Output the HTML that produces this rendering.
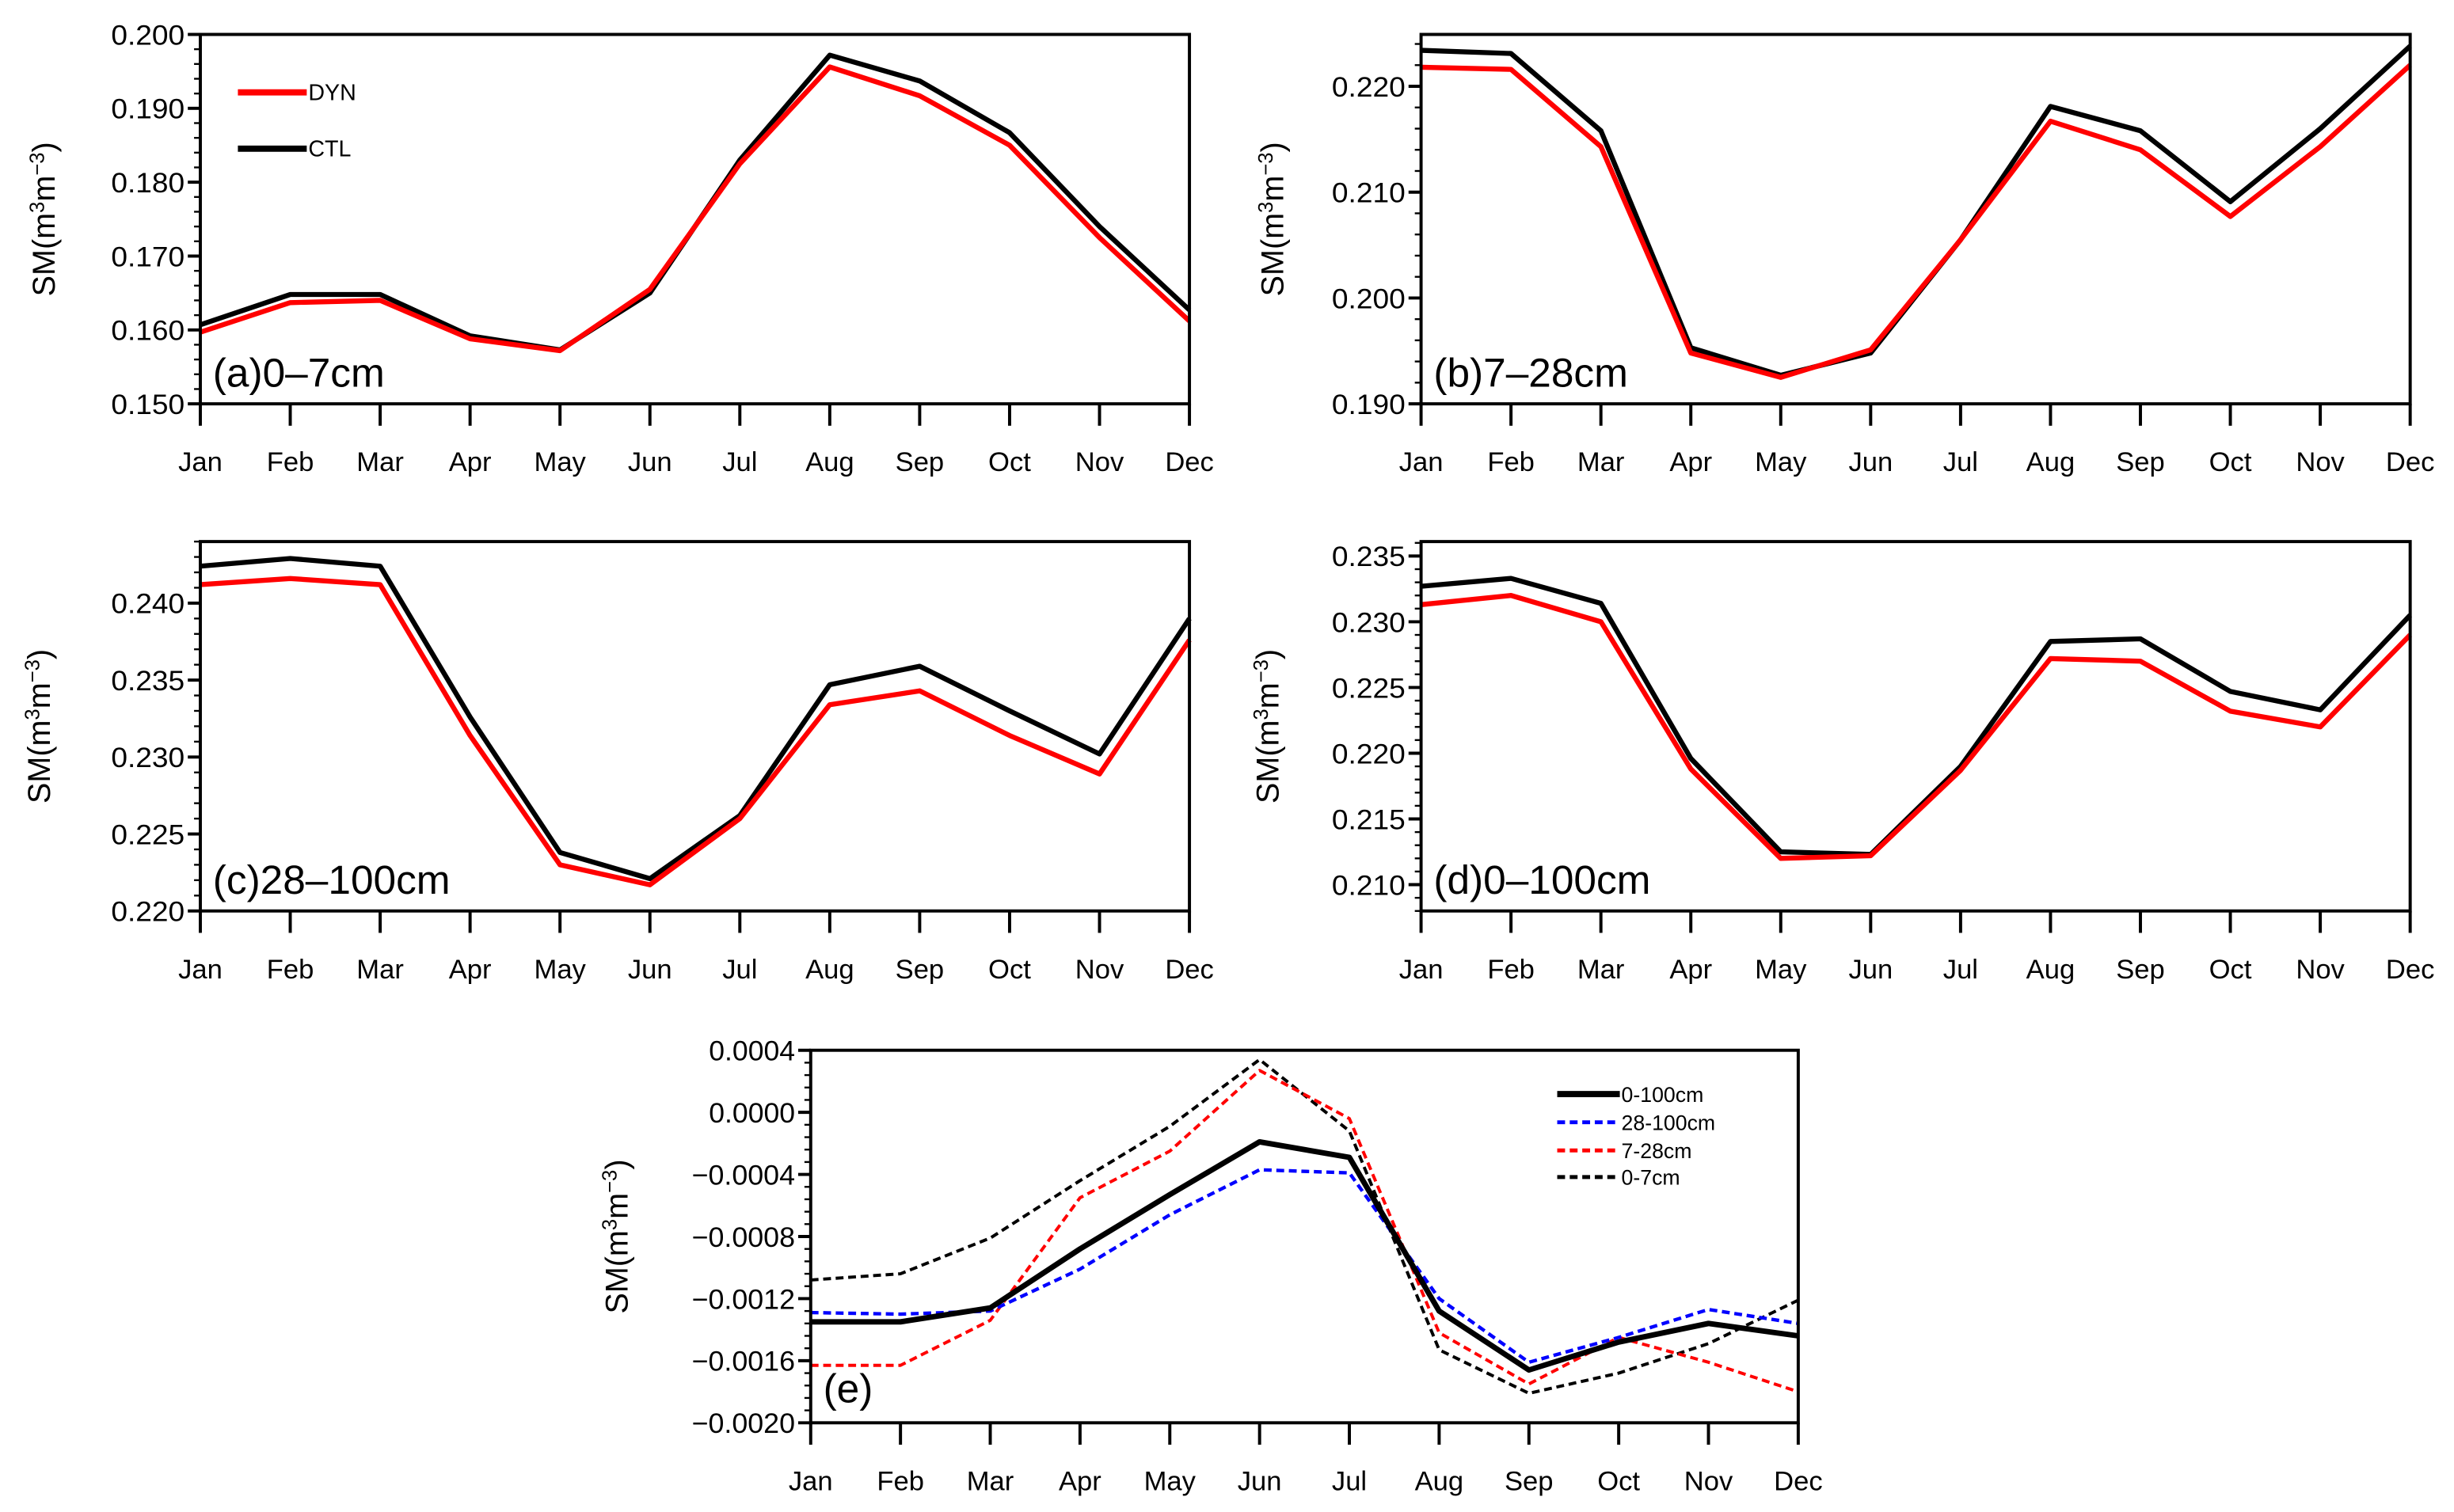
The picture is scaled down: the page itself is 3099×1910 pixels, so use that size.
<!DOCTYPE html>
<html><head><meta charset="utf-8"><style>
html,body{margin:0;padding:0;background:#fff;}
svg{display:block;font-family:"Liberation Sans",Arial,sans-serif;}
</style></head><body>
<svg id="fig" width="3099" height="1910" viewBox="0 0 1568 966" preserveAspectRatio="none" xmlns="http://www.w3.org/2000/svg"></svg>
<script>
const months = ["Jan","Feb","Mar","Apr","May","Jun","Jul","Aug","Sep","Oct","Nov","Dec"];
const aDyn = [0.1597,0.1637,0.1640,0.1588,0.1572,0.1655,0.1825,0.1956,0.1917,0.1850,0.1725,0.1612];
const aCtl = [0.1607,0.1648,0.1648,0.1592,0.1573,0.1650,0.1830,0.1972,0.1937,0.1867,0.1740,0.1627];
const bDyn = [0.2218,0.2216,0.2143,0.1948,0.1925,0.1951,0.2055,0.2167,0.2140,0.2077,0.2143,0.2220];
const bCtl = [0.2234,0.2231,0.2158,0.1953,0.1927,0.1948,0.2055,0.2181,0.2158,0.2091,0.2160,0.2238];
const cDyn = [0.2412,0.2416,0.2412,0.2314,0.2230,0.2217,0.2260,0.2334,0.2343,0.2314,0.2289,0.2376];
const cCtl = [0.2424,0.2429,0.2424,0.2326,0.2238,0.2221,0.2262,0.2347,0.2359,0.2330,0.2302,0.2390];
const dDyn = [0.2313,0.2320,0.2300,0.2188,0.2120,0.2122,0.2187,0.2272,0.2270,0.2232,0.2220,0.2290];
const dCtl = [0.2327,0.2333,0.2314,0.2196,0.2125,0.2123,0.2190,0.2285,0.2287,0.2247,0.2233,0.2305];
const e0100 = [-13.5,-13.5,-12.6,-8.8,-5.3,-1.9,-2.9,-12.8,-16.6,-14.8,-13.6,-14.4];
const e28100 = [-12.9,-13.0,-12.8,-10.1,-6.6,-3.7,-3.9,-12.0,-16.1,-14.5,-12.7,-13.6];
const e728 = [-16.3,-16.3,-13.4,-5.5,-2.5,2.7,-0.4,-14.2,-17.5,-14.5,-16.1,-18.0];
const e07 = [-10.8,-10.4,-8.1,-4.4,-0.9,3.4,-1.2,-15.3,-18.1,-16.8,-14.9,-12.1];
const aTicks = ["0.150","0.160","0.170","0.180","0.190","0.200"];
const bTicks = ["0.190","0.200","0.210","0.220"];
const cTicks = ["0.220","0.225","0.230","0.235","0.240"];
const dTicks = ["0.210","0.215","0.220","0.225","0.230","0.235"];
const eTicks = ["-0.0020","-0.0016","-0.0012","-0.0008","-0.0004","0.0000","0.0004"];

const NS="http://www.w3.org/2000/svg";
const svg=document.getElementById('fig');
function mk(tag,attrs,parent){const el=document.createElementNS(NS,tag);for(const k in attrs)el.setAttribute(k,attrs[k]);(parent||svg).appendChild(el);return el;}

function panel(id,x0,x1,y0,y1,ymin,ymax,ticks,scale,minorStep,label,series,ylx){
  const g=mk('g',{});
  
  
  const X=i=>x0+(x1-x0)*i/11;
  const Y=v=>y1-(y1-y0)*(v-ymin)/(ymax-ymin);
  for(let v=ymin;v<=ymax+1e-9;v+=minorStep){mk('line',{x1:x0-4,x2:x0,y1:Y(v),y2:Y(v),stroke:'#000','stroke-width':1.2},g);}
  ticks.forEach(t=>{const v=parseFloat(t)/scale;const y=Y(v);
    mk('line',{x1:x0-8,x2:x0,y1:y,y2:y,stroke:'#000','stroke-width':2},g);
    const w=t.length>6?66:(t.length>5?55:47);
    const tx=mk('text',{x:x0-10,y:y+6.5,'text-anchor':'end','font-size':18,'textLength':w,'lengthAdjust':'spacingAndGlyphs'},g);
    tx.textContent=t.replace('-','\u2212');
    
    
  });
  months.forEach((m,i)=>{mk('line',{x1:X(i),x2:X(i),y1:y1,y2:y1+14,stroke:'#000','stroke-width':2},g);
    const tx=mk('text',{x:X(i),y:y1+43,'text-anchor':'middle','font-size':17.5},g);tx.textContent=m;
    
    
  });
  series.forEach(s=>{
    const pts=s.data.map((v,i)=>X(i).toFixed(2)+','+Y(v).toFixed(2)).join(' ');
    const p=mk('polyline',{points:pts,fill:'none',stroke:s.color,'stroke-width':s.w,'stroke-dasharray':s.dash||'none','stroke-linejoin':'round'},g);
    
    
  });
  mk('rect',{x:x0,y:y0,width:x1-x0,height:y1-y0,fill:'none',stroke:'#000','stroke-width':2},g);
  const yl=mk('text',{transform:`translate(${ylx},${(y0+y1)/2}) rotate(-90)`,'text-anchor':'middle','font-size':20},g);
  yl.innerHTML='SM(m<tspan dy="-7" font-size="13">3</tspan><tspan dy="7">m</tspan><tspan dy="-7" font-size="13">\u22123</tspan><tspan dy="7">)</tspan>';
  
  
  const pl=mk('text',{x:x0+8,y:label.y,'font-size':26},g);pl.textContent=label.t;
  
  
  return g;
}
const R='#ff0000',K='#000';
panel('panel-a',128,760,22,258,0.150,0.200,aTicks,1,0.002,{t:'(a)0\u20137cm',y:247},[{name:'ctl-line',data:aCtl,color:K,w:3.2},{name:'dyn-line',data:aDyn,color:R,w:3.2}],35);
panel('panel-b',908,1540,22,258,0.190,0.2249,bTicks,1,0.002,{t:'(b)7\u201328cm',y:247},[{name:'ctl-line',data:bCtl,color:K,w:3.2},{name:'dyn-line',data:bDyn,color:R,w:3.2}],820);
panel('panel-c',128,760,346,582,0.220,0.2440,cTicks,1,0.001,{t:'(c)28\u2013100cm',y:571},[{name:'ctl-line',data:cCtl,color:K,w:3.2},{name:'dyn-line',data:cDyn,color:R,w:3.2}],32);
panel('panel-d',908,1540,346,582,0.208,0.2361,dTicks,1,0.001,{t:'(d)0\u2013100cm',y:571},[{name:'ctl-line',data:dCtl,color:K,w:3.2},{name:'dyn-line',data:dDyn,color:R,w:3.2}],817);
panel('panel-e',518,1149,671,909,-20,4,eTicks,1e-4,0.8,{t:'(e)',y:896},[
  {name:'line-0-7cm',data:e07,color:K,w:2,dash:'5,3'},
  {name:'line-7-28cm',data:e728,color:R,w:2,dash:'5,3'},
  {name:'line-28-100cm',data:e28100,color:'#0000ff',w:2.2,dash:'5,3'},
  {name:'line-0-100cm',data:e0100,color:K,w:3.5}],401);

function legendEntry(x1,x2,y,color,w,dash,text,fs,name){
  const g=mk('g',{});
  
  
  mk('line',{x1:x1,x2:x2,y1:y,y2:y,stroke:color,'stroke-width':w,'stroke-dasharray':dash||'none'},g);
  const t=mk('text',{x:x2+1,y:y+5,'font-size':fs},g);t.textContent=text;
}
legendEntry(152,196,59,R,4,null,'DYN',14.5,'legend-dyn');
legendEntry(152,196,95,K,4,null,'CTL',14.5,'legend-ctl');
legendEntry(995,1035,699,K,4,null,'0-100cm',13.5,'legend-0-100cm');
legendEntry(995,1035,717,'#0000ff',2.5,'5,3','28-100cm',13.5,'legend-28-100cm');
legendEntry(995,1035,735,R,2.5,'5,3','7-28cm',13.5,'legend-7-28cm');
legendEntry(995,1035,752,K,2.5,'5,3','0-7cm',13.5,'legend-0-7cm');
</script>
</body></html>
